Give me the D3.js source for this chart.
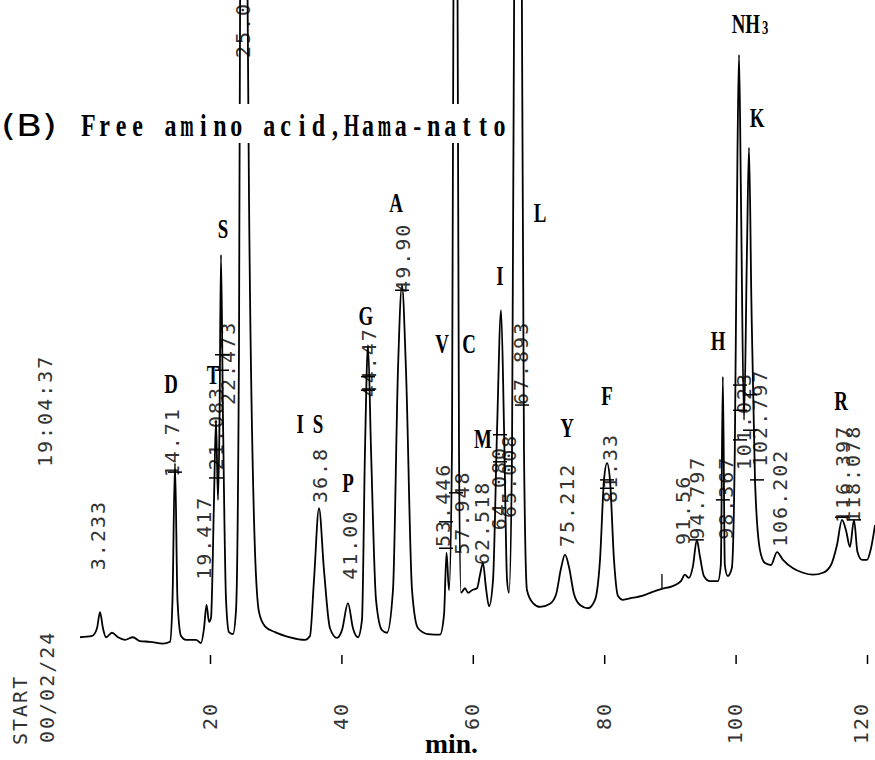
<!DOCTYPE html>
<html><head><meta charset="utf-8">
<script src="https://cdn.jsdelivr.net/npm/d3@7"></script>
<style>
html,body{margin:0;padding:0;background:#fff;}
svg{display:block;background:#fff;}
.num{font-family:"DejaVu Sans Mono",monospace;font-size:20px;letter-spacing:2px;fill:#333;}
.pk{font-family:"Liberation Serif",serif;font-weight:bold;font-size:27px;fill:#000;}
.title{font-family:"Liberation Serif",serif;font-weight:bold;font-size:32px;fill:#000;}
</style>
</head><body>
<svg id="chart" width="875" height="760"></svg>
<script>
// ---- chromatogram trace (time in min, detector signal in arbitrary units) ----
const times = [0.21,2.04,2.80,3.26,3.71,4.17,5.08,6.00,7.06,8.28,9.35,10.87,12.85,13.91,14.29,14.67,15.05,15.59,16.35,17.87,
  18.63,19.09,19.47,19.85,20.15,20.61,20.91,21.22,21.45,21.67,21.98,22.44,22.89,23.50,23.96,24.41,24.72,25.02,25.40,25.94,
  26.70,27.46,28.37,29.89,32.18,34.46,35.22,35.83,36.59,37.35,38.26,39.33,40.09,41.00,41.76,42.52,43.13,43.59,44.05,44.51,
  45.27,46.18,46.94,47.85,48.61,49.22,49.83,50.75,51.66,53.18,55.01,55.62,56.00,56.38,56.83,57.14,57.37,57.59,57.90,58.20,
  58.81,59.27,59.88,60.64,61.10,61.55,62.01,62.47,63.08,63.69,64.30,64.76,65.21,65.51,65.97,66.42,66.88,67.34,67.79,68.25,
  69.16,70.23,71.75,72.66,73.43,74.03,74.64,75.40,76.32,77.53,78.60,79.36,79.97,80.43,80.88,81.49,82.10,82.86,84.23,85.75,
  87.27,88.79,90.31,91.68,92.28,92.89,93.50,94.10,94.56,95.17,96.09,97.30,97.75,98.06,98.36,98.81,99.42,99.88,100.29,100.52,
  100.82,101.28,101.73,102.04,102.40,102.95,103.71,104.47,105.39,106.30,107.21,108.74,110.26,111.78,113.30,114.52,115.43,116.19,116.80,117.41,
  118.02,118.55,119.24,120.00,120.61,121.22];
const signal = [1.2,1.4,2.6,5.1,2.6,1.2,1.9,1.2,0.8,1.2,0.6,0.5,0.2,0.5,7.0,28.2,7.0,1.4,0.8,0.8,
  0.3,2.6,6.2,3.6,4.2,22.5,34.9,22.5,34.9,60.5,34.9,7.0,2.0,1.7,5.4,45.7,146.5,193.0,146.5,69.0,
  19.4,5.1,2.9,2.0,1.2,0.8,1.4,10.1,21.2,11.6,2.6,1.1,2.3,6.5,2.6,1.2,3.9,30.2,46.5,30.2,
  7.0,2.3,1.9,8.5,42.6,55.8,42.6,8.5,2.6,1.7,1.6,4.7,14.3,8.5,30.2,131.0,162.0,131.0,30.2,8.1,
  8.8,8.1,8.5,8.8,10.9,12.7,8.8,6.0,10.1,33.3,51.9,33.3,10.1,8.1,30.2,131.0,177.5,131.0,30.2,8.5,
  6.5,5.9,6.4,7.8,11.9,14.0,12.1,7.9,6.2,5.7,7.0,13.2,25.6,28.2,25.6,13.2,7.6,7.0,7.3,7.6,
  8.2,8.7,9.1,9.9,10.9,10.4,12.2,16.3,13.8,10.7,9.9,9.9,12.4,41.6,12.4,10.7,11.9,30.2,76.7,91.5,
  69.0,34.9,61.2,77.1,53.5,25.6,14.7,12.7,12.4,14.4,13.2,11.9,11.2,10.9,11.2,12.4,15.5,19.4,17.8,15.2,
  19.4,14.4,13.2,13.2,15.0,18.6];

// ---- x axis ----
const tickValues = [20,40,60,80,100,120];

// ---- peak identification letters ----
const peakNames  = ["D","T","S","IS","P","G","A","V","C","M","I","L","Y","F","H","NH3","K","R"];
const peakNameTimes  = [14.06,20.46,21.98,35.37,41.02,43.74,48.31,55.31,59.42,61.55,64.14,70.23,74.34,80.43,97.32,102.19,103.26,116.05];
const peakNameLevels = [39.1,40.5,63.1,32.9,23.7,49.6,67.1,45.3,45.3,30.5,55.8,65.6,32.2,37.2,45.7,94.9,80.3,36.4];

// ---- printed retention times ----
const rtLabels = ["3.233","14.71","19.417","21.083","22.473","25.0","36.8","41.00","44.47","49.90","53.446","57.948",
  "62.518","64.080","65.008","67.893","75.212","81.33","91.56","94.797","98.367","101.023","102.797","106.202","116.397","118.078"];
const rtTimes  = [2.95,14.22,19.09,20.91,22.74,25.02,36.74,41.31,44.20,49.37,55.47,58.36,
  61.40,63.99,65.51,67.34,74.34,80.88,91.99,94.12,98.54,101.28,103.71,106.76,116.35,117.87];
const rtLevels = [11.6,26.0,10.1,27.1,37.2,91.0,22.0,10.1,38.4,54.6,15.2,14.0,
  12.4,17.8,19.7,37.2,15.2,22.0,15.5,16.3,16.3,27.1,27.6,15.2,18.9,18.9];

// ---- integrator marks ----
const markTimes  = [14.67,20.91,21.83,21.83,44.05,44.05,49.22,55.92,55.92,57.44,64.14,64.14,67.50,80.43,80.43,94.10,98.06,100.67,100.67,100.67,102.19,102.19,103.26,116.19,118.02];
const markLevels = [26.8,25.9,45.0,42.6,41.6,39.5,55.0,19.1,15.0,23.6,32.6,28.4,37.2,25.6,24.3,16.3,22.5,40.3,36.4,31.8,38.8,33.3,25.6,19.8,19.4];

const eventTimes = [88.79];
const eventLevels = [[8.7,11.0]];

const svg = d3.select("#chart");
const x = d3.scaleLinear().domain([0,120]).range([78.6,867]);
const y = d3.scaleLinear().domain([0,100]).range([645,0]);

// retention time labels
const gRt = svg.append("g");
rtLabels.forEach((s,i)=>{
  gRt.append("text").attr("class","num")
    .attr("transform",`translate(${x(rtTimes[i])},${y(rtLevels[i])}) rotate(-90)`)
    .attr("dy","0.35em").attr("text-anchor","start").text(s);
});

// trace
const pts = times.map((t,i)=>[t,signal[i]]);
svg.append("path").datum(pts)
  .attr("d", d3.line().x(d=>x(d[0])).y(d=>y(d[1])).curve(d3.curveMonotoneX))
  .attr("fill","none").attr("stroke","#000").attr("stroke-width",1.8).attr("stroke-linejoin","round");

// marks
svg.append("g").selectAll("line").data(markTimes).join("line")
  .attr("x1",(d)=>x(d)-7).attr("x2",(d)=>x(d)+7)
  .attr("y1",(d,i)=>y(markLevels[i])).attr("y2",(d,i)=>y(markLevels[i]))
  .attr("stroke","#000").attr("stroke-width",1.5);
svg.append("g").selectAll("line").data(eventTimes).join("line")
  .attr("x1",d=>x(d)).attr("x2",d=>x(d))
  .attr("y1",(d,i)=>y(eventLevels[i][0])).attr("y2",(d,i)=>y(eventLevels[i][1]))
  .attr("stroke","#000").attr("stroke-width",1.3);

// axis
const axis = d3.axisBottom(x).tickValues(tickValues).tickSize(9).tickFormat(d3.format("d"));
const ga = svg.append("g").attr("transform","translate(0,655)").call(axis);
ga.select(".domain").remove();
ga.selectAll(".tick line").attr("stroke","#000").attr("stroke-width",1.5);
ga.selectAll(".tick text").attr("class","num").attr("fill","#333")
  .attr("transform","translate(0,47) rotate(-90)").attr("x",0).attr("y",0)
  .attr("dy",d=>d===120?"0.0em":"0.3em").attr("text-anchor","end")
  .attr("font-family","DejaVu Sans Mono").attr("font-size",19);

svg.append("text").attr("x",425).attr("y",753)
  .attr("font-family","Liberation Serif").attr("font-weight","bold").attr("font-size",28)
  .attr("textLength",53).attr("lengthAdjust","spacingAndGlyphs").text("min.");

// left stamps
[["START",20,745],["00/02/24",47,743],["19:04:37",45,467]].forEach(([s,cx,by])=>{
  svg.append("text").attr("class","num")
    .attr("transform",`translate(${cx},${by}) rotate(-90)`)
    .attr("dy","0.35em").attr("text-anchor","start").text(s);
});

// peak letters
peakNames.forEach((n,i)=>{
  const t = svg.append("text").attr("class","pk")
    .attr("transform",`translate(${x(peakNameTimes[i])},${y(peakNameLevels[i])}) scale(0.7,1)`)
    .attr("text-anchor","middle");
  if(n==="NH3"){
    t.append("tspan").text("NH");
    t.append("tspan").attr("font-size","18px").attr("dx","3").attr("dy","1").text("3");
  } else if(n==="IS"){
    t.attr("letter-spacing","3").text("I S");
  } else t.text(n);
});

// title (printed over the trace), one character per fixed printer cell
const titleText = "Free amino acid,Hama-natto";
const pitch = 16.45;
svg.append("rect").attr("x",0).attr("y",104).attr("width",511).attr("height",39).attr("fill","#fff");
svg.append("text").attr("x",1).attr("y",136)
  .attr("font-family","DejaVu Sans").attr("font-size",30)
  .attr("textLength",56).attr("lengthAdjust","spacingAndGlyphs").text("(B)");
const gT = svg.append("g").attr("transform","translate(80,136)");
titleText.split("").forEach((c,i)=>{
  if(c===" ") return;
  const s = (c==="m"||c==="M")?0.5:(c==="H"?0.62:0.75);
  gT.append("text").attr("class","title").attr("text-anchor","middle")
    .attr("transform",`translate(${(i+0.5)*pitch},0) scale(${s},1)`).text(c);
});
</script>
</body></html>
